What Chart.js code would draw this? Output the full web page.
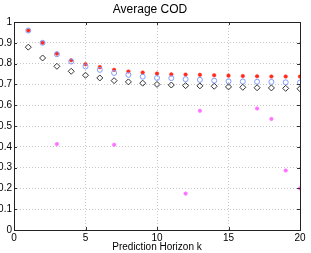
<!DOCTYPE html>
<html>
<head>
<meta charset="utf-8">
<script src="https://cdn.jsdelivr.net/npm/chart.js@4.4.1/dist/chart.umd.min.js"></script>
<style>
  html, body { margin: 0; padding: 0; background: #fff; }
  #wrap { width: 311px; height: 253px; }
</style>
</head>
<body>
<div id="wrap"><canvas id="chart" width="311" height="253"></canvas></div>
<script>
// horizon steps and COD values
const horizon = [1, 2, 3, 4, 5, 6, 7, 8, 9, 10, 11, 12, 13, 14, 15, 16, 17, 18, 19, 20];
const codRed = [0.959, 0.900, 0.848, 0.816, 0.797, 0.783, 0.770, 0.762, 0.757, 0.752,
                0.748, 0.747, 0.746, 0.744, 0.742, 0.740, 0.739, 0.738, 0.738, 0.738];
const codBlue = [0.959, 0.900, 0.845, 0.810, 0.786, 0.770, 0.755, 0.746, 0.737, 0.731,
                 0.730, 0.725, 0.722, 0.718, 0.715, 0.714, 0.713, 0.712, 0.710, 0.709];
const codDiamond = [0.879, 0.827, 0.787, 0.763, 0.744, 0.731, 0.718, 0.712, 0.706, 0.700,
                    0.697, 0.694, 0.693, 0.691, 0.688, 0.686, 0.684, 0.683, 0.681, 0.679];
// magenta series: only some steps are inside the 0..1 range
const codMagenta = [null, null, 0.413, null, null, null, 0.410, null, null, null,
                    null, 0.175, 0.573, null, null, null, 0.584, 0.534, 0.286, 0.200];
const xTicks = [0, 5, 10, 15, 20];
const yTicks = [0, 0.1, 0.2, 0.3, 0.4, 0.5, 0.6, 0.7, 0.8, 0.9, 1];

function toPoints(vals) {
    return horizon.map((k, i) => ({ x: k, y: vals[i] })).filter(p => p.y !== null);
}

// matlab style box with inward tick marks
const boxPlugin = {
    id: 'box',
    afterDraw(chart) {
        const { ctx, chartArea: a, scales } = chart;
        ctx.save();
        ctx.strokeStyle = '#333';
        ctx.lineWidth = 1;
        ctx.beginPath();
        xTicks.forEach(t => {
            const px = Math.round(scales.x.getPixelForValue(t)) + 0.5;
            ctx.moveTo(px, a.bottom); ctx.lineTo(px, a.bottom - 3);
            ctx.moveTo(px, a.top); ctx.lineTo(px, a.top + 3);
        });
        yTicks.forEach(t => {
            const py = Math.round(scales.y.getPixelForValue(t)) + 0.5;
            ctx.moveTo(a.left, py); ctx.lineTo(a.left + 3, py);
            ctx.moveTo(a.right, py); ctx.lineTo(a.right - 3, py);
        });
        ctx.stroke();
        ctx.strokeStyle = '#222';
        ctx.strokeRect(Math.round(a.left) + 0.5, Math.round(a.top) + 0.5,
            Math.round(a.right - a.left), Math.round(a.bottom - a.top));
        ctx.restore();
    }
};

new Chart(document.getElementById('chart').getContext('2d'), {
    type: 'scatter',
    data: {
        datasets: [
            {
                label: 'diamond',
                data: toPoints(codDiamond),
                pointStyle: 'rectRot',
                pointRadius: 3,
                borderColor: '#333',
                backgroundColor: 'rgba(0,0,0,0)',
                borderWidth: 1
            },
            {
                label: 'blue',
                data: toPoints(codBlue),
                pointStyle: 'circle',
                pointRadius: 2.5,
                borderColor: '#7f9cff',
                backgroundColor: 'rgba(0,0,0,0)',
                borderWidth: 1
            },
            {
                label: 'red',
                data: toPoints(codRed),
                pointStyle: 'circle',
                pointRadius: 1.8,
                borderColor: '#ff2a1a',
                backgroundColor: '#ff2a1a',
                borderWidth: 0.5
            },
            {
                label: 'magenta',
                data: toPoints(codMagenta),
                pointStyle: 'circle',
                pointRadius: 1.8,
                borderColor: '#ff70ff',
                backgroundColor: '#ff70ff',
                borderWidth: 0.5
            }
        ]
    },
    options: {
        responsive: false,
        animation: false,
        layout: { padding: { left: 0, right: 11, top: 0, bottom: 0 } },
        plugins: {
            legend: { display: false },
            tooltip: { enabled: false },
            title: {
                display: true,
                text: 'Average COD',
                color: '#000',
                font: { family: 'Liberation Sans', size: 12, weight: 'normal' },
                padding: { top: 2, bottom: 5.6 }
            }
        },
        scales: {
            x: {
                type: 'linear',
                min: 0,
                max: 20,
                afterBuildTicks: s => { s.ticks = xTicks.map(v => ({ value: v })); },
                afterFit: s => { s.height = 23; },
                ticks: {
                    color: '#000',
                    font: { family: 'Liberation Sans', size: 10 },
                    padding: 2,
                    maxRotation: 0
                },
                grid: { color: '#c8c8c8', drawTicks: false },
                border: { display: false, dash: [1, 2] },
                title: {
                    display: true,
                    text: 'Prediction Horizon k',
                    color: '#000',
                    font: { family: 'Liberation Sans', size: 10 },
                    padding: { top: 0, bottom: 0 }
                }
            },
            y: {
                min: 0,
                max: 1,
                afterBuildTicks: s => { s.ticks = yTicks.map(v => ({ value: v })); },
                afterFit: s => { s.width = 14; },
                ticks: {
                    color: '#000',
                    font: { family: 'Liberation Sans', size: 10 },
                    padding: 2,
                    callback: v => String(Math.round(v * 10) / 10)
                },
                grid: { color: '#c8c8c8', drawTicks: false },
                border: { display: false, dash: [1, 2] }
            }
        }
    },
    plugins: [boxPlugin]
});
</script>
</body>
</html>
